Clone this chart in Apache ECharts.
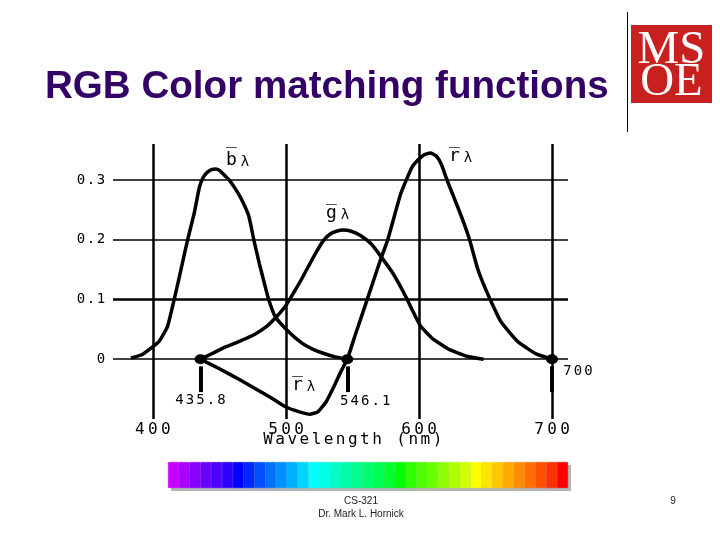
<!DOCTYPE html>
<html><head><meta charset="utf-8">
<script src="https://cdn.jsdelivr.net/npm/echarts@6/dist/echarts.min.js"></script>
<style>html,body{margin:0;padding:0;background:#fff}#c{width:720px;height:540px}</style>
</head><body><div id="c"></div>
<script>
// ---- data ----
const bWl  = [383.5, 392, 400, 405, 411, 416, 421, 426, 431, 435, 438, 441, 444, 447, 450, 455, 458, 462, 466, 472, 476, 480, 484, 487, 492, 502, 512, 520, 528, 537, 546.1];
const bVal = [0.002, 0.008, 0.021, 0.031, 0.055, 0.100, 0.149, 0.199, 0.244, 0.288, 0.305, 0.313, 0.317, 0.318, 0.316, 0.305, 0.298, 0.285, 0.270, 0.240, 0.198, 0.160, 0.125, 0.100, 0.071, 0.046, 0.027, 0.017, 0.010, 0.004, 0];

const gWl  = [435.8, 445, 455, 465, 476, 485, 492, 500, 506, 512, 518, 523, 528, 533, 538, 543, 549, 556, 564, 572, 580, 586, 590, 595, 601, 610, 623, 636, 648.5];
const gVal = [0, 0.010, 0.021, 0.030, 0.041, 0.054, 0.069, 0.090, 0.112, 0.135, 0.160, 0.180, 0.198, 0.209, 0.214, 0.216, 0.214, 0.207, 0.193, 0.170, 0.145, 0.122, 0.105, 0.082, 0.056, 0.035, 0.016, 0.005, 0];

const rWl  = [435.8, 450, 465, 480, 490, 500, 510, 518, 524, 530, 536, 541, 546.1, 552, 557, 562.3, 571, 576.5, 586, 590.5, 595, 599, 604, 608.5, 613, 617, 621, 626, 632, 638, 644, 648, 653.5, 661, 668, 675, 688, 700];
const rVal = [0, -0.016, -0.034, -0.053, -0.066, -0.080, -0.088, -0.092, -0.088, -0.072, -0.046, -0.022, 0, 0.040, 0.073, 0.108, 0.166, 0.200, 0.275, 0.300, 0.322, 0.333, 0.342, 0.345, 0.340, 0.325, 0.300, 0.272, 0.238, 0.200, 0.152, 0.128, 0.100, 0.065, 0.045, 0.028, 0.009, 0];

const primaries = [435.8, 546.1, 700];
const xTicks = [400, 500, 600, 700];
const yTicks = [0, 0.1, 0.2, 0.3];
const spectrumColors = ['#c800ff','#a800ff','#8800ff','#6a00ff','#4c00ff','#2e00ff','#0000ff','#0028ff','#0050ff','#0070ff','#0090ff','#00b0ff','#00d4ff','#00ffff','#00ffe4','#00ffc8','#00ffaa','#00ff8c','#00ff6e','#00ff50','#00ff30','#00ff00','#30ff00','#50ff00','#70ff00','#90ff00','#b0ff00','#d0ff00','#ffff00','#ffe400','#ffc800','#ffaa00','#ff8c00','#ff6e00','#ff5000','#ff3000','#ff0000'];

// ---- helpers ----
const mono = '"DejaVu Sans Mono"';
function spaced(s, cls) { return s.split('').map(ch => '{' + cls + '|' + ch + '}').join(''); }
function pairs(xs, ys) { return xs.map((x, i) => [x, ys[i]]); }
function fmtY(v) { return v === 0 ? '0' : v.toFixed(1); }

const chart = echarts.init(document.getElementById('c'), null, { renderer: 'canvas' });

const curveStyle = { color: '#000', width: 3.5 };
const primaryLabelOffsets = [[0, 41], [18, 42], [26, 12]];
const curveLabelRich = {
  a: { fontFamily: mono, fontSize: 18, verticalAlign: 'bottom', lineHeight: 18, color: '#000' },
  l: { fontFamily: mono, fontSize: 14, verticalAlign: 'bottom', lineHeight: 15, padding: [0, 0, 0, 4], color: '#000' }
};

const option = {
  animation: false,
  backgroundColor: '#fff',
  grid: [
    { left: 113, top: 144, width: 455, height: 275 },
    { left: 168, top: 462, width: 400, height: 26 }
  ],
  xAxis: [
    { type: 'value', gridIndex: 0, min: 370, max: 712,
      axisLine: { show: false }, axisTick: { show: false }, splitLine: { show: false },
      axisLabel: { customValues: xTicks, margin: 3, formatter: v => spaced(String(v), 't'),
        rich: { t: { width: 13, align: 'center', fontFamily: mono, fontSize: 16, color: '#000' } } } },
    { type: 'category', gridIndex: 1, data: spectrumColors.map((c, i) => i), show: false }
  ],
  yAxis: [
    { type: 'value', gridIndex: 0, min: -0.1, max: 0.36,
      axisLine: { show: false }, axisTick: { show: false }, splitLine: { show: false },
      axisLabel: { customValues: yTicks, margin: 7, formatter: v => spaced(fmtY(v), 'y'),
        rich: { y: { width: 10, align: 'center', fontFamily: mono, fontSize: 14, color: '#000' } } } },
    { type: 'value', gridIndex: 1, min: 0, max: 1, show: false }
  ],
  series: [
    { type: 'line', name: 'b', data: pairs(bWl, bVal), showSymbol: false, smooth: 0.15, lineStyle: curveStyle, silent: true, z: 3 },
    { type: 'line', name: 'g', data: pairs(gWl, gVal), showSymbol: false, smooth: 0.15, lineStyle: curveStyle, silent: true, z: 3 },
    { type: 'line', name: 'r', data: pairs(rWl, rVal), showSymbol: false, smooth: 0.15, lineStyle: curveStyle, silent: true, z: 3 },
    { type: 'scatter', name: 'primaries', z: 4, silent: true,
      symbolSize: [12, 10], itemStyle: { color: '#000', opacity: 1 },
      data: primaries.map((p, i) => ({
        value: [p, 0],
        label: { show: true, position: 'inside', offset: primaryLabelOffsets[i],
          color: '#000', opacity: 1, textBorderWidth: 0, textBorderColor: 'transparent',
          formatter: spaced(String(p), 'p'),
          rich: { p: { width: 10.5, align: 'center', fontFamily: mono, fontSize: 14, color: '#000', textBorderWidth: 0 } } }
      })),
      markLine: {
        silent: true, symbol: 'none', label: { show: false }, animation: false,
        lineStyle: { color: '#000', type: 'solid', width: 2, opacity: 1 },
        data: [
          ...xTicks.map(v => ({ xAxis: v, lineStyle: { color: '#000', type: 'solid', width: 2.5, opacity: 1 } })),
          ...yTicks.map(v => ({ yAxis: v, lineStyle: { color: '#000', type: 'solid', width: v === 0.1 ? 2.6 : 1.7, opacity: 1 } })),
          ...primaries.map(p => [{ coord: [p, -0.012], lineStyle: { color: '#000', type: 'solid', width: 4, opacity: 1 } }, { coord: [p, -0.055] }])
        ]
      }
    },
    { type: 'bar', name: 'spectrum', xAxisIndex: 1, yAxisIndex: 1, silent: true,
      barWidth: '100%', barCategoryGap: '0%', z: 3,
      data: spectrumColors.map(c => ({ value: 1, itemStyle: { color: c, borderColor: c, borderWidth: 0.6 } })) }
  ],
  graphic: { elements: [
    // title
    { type: 'text', x: 45, y: 87, silent: true,
      style: { text: 'RGB Color matching functions', font: 'bold 38.6px "Liberation Sans"', fill: '#330066',
        align: 'left', textAlign: 'left', verticalAlign: 'middle', textVerticalAlign: 'middle' } },
    // separator
    { type: 'line', silent: true, shape: { x1: 627.5, y1: 12, x2: 627.5, y2: 132 }, style: { stroke: '#000', lineWidth: 1 } },
    // logo
    { type: 'rect', silent: true, shape: { x: 631, y: 25, width: 81, height: 78 }, style: { fill: '#c8201e' } },
    { type: 'text', x: 671.5, y: 51, silent: true, scaleX: 1.02,
      style: { text: 'MS', font: '46px "Liberation Serif"', fill: '#fff', align: 'center', textAlign: 'center', verticalAlign: 'middle', textVerticalAlign: 'middle' } },
    { type: 'text', x: 671.5, y: 83, silent: true, scaleX: 1.02,
      style: { text: 'OE', font: '46px "Liberation Serif"', fill: '#fff', align: 'center', textAlign: 'center', verticalAlign: 'middle', textVerticalAlign: 'middle' } },
    // curve labels
    { type: 'text', x: 226, y: 160, silent: true,
      style: { text: '{a|b\u0305}{l|λ}', verticalAlign: 'middle', textVerticalAlign: 'middle', rich: curveLabelRich } },
    { type: 'text', x: 449, y: 156, silent: true,
      style: { text: '{a|r\u0305}{l|λ}', verticalAlign: 'middle', textVerticalAlign: 'middle', rich: curveLabelRich } },
    { type: 'text', x: 326, y: 213, silent: true,
      style: { text: '{a|g\u0305}{l|λ}', verticalAlign: 'middle', textVerticalAlign: 'middle', rich: curveLabelRich } },
    { type: 'text', x: 292, y: 385, silent: true,
      style: { text: '{a|r\u0305}{l|λ}', verticalAlign: 'middle', textVerticalAlign: 'middle', rich: curveLabelRich } },
    // x-axis name
    { type: 'text', x: 262, y: 440, silent: true,
      style: { text: spaced('Wavelength (nm)', 'w'), align: 'left', textAlign: 'left', verticalAlign: 'middle', textVerticalAlign: 'middle',
        rich: { w: { width: 12.1, align: 'center', fontFamily: mono, fontSize: 16, color: '#000' } } } },
    // spectrum shadow
    { type: 'rect', silent: true, z: 1, shape: { x: 171, y: 465, width: 400, height: 26 }, style: { fill: '#b4b4b4' } },
    // footer
    { type: 'text', x: 361, y: 501, silent: true,
      style: { text: 'CS-321', font: '10px "Liberation Sans"', fill: '#222', align: 'center', textAlign: 'center', verticalAlign: 'middle', textVerticalAlign: 'middle' } },
    { type: 'text', x: 361, y: 514, silent: true,
      style: { text: 'Dr. Mark L. Hornick', font: '10px "Liberation Sans"', fill: '#222', align: 'center', textAlign: 'center', verticalAlign: 'middle', textVerticalAlign: 'middle' } },
    { type: 'text', x: 673, y: 501, silent: true,
      style: { text: '9', font: '10px "Liberation Sans"', fill: '#222', align: 'center', textAlign: 'center', verticalAlign: 'middle', textVerticalAlign: 'middle' } }
  ] }
};
chart.setOption(option);
</script>
</body></html>
